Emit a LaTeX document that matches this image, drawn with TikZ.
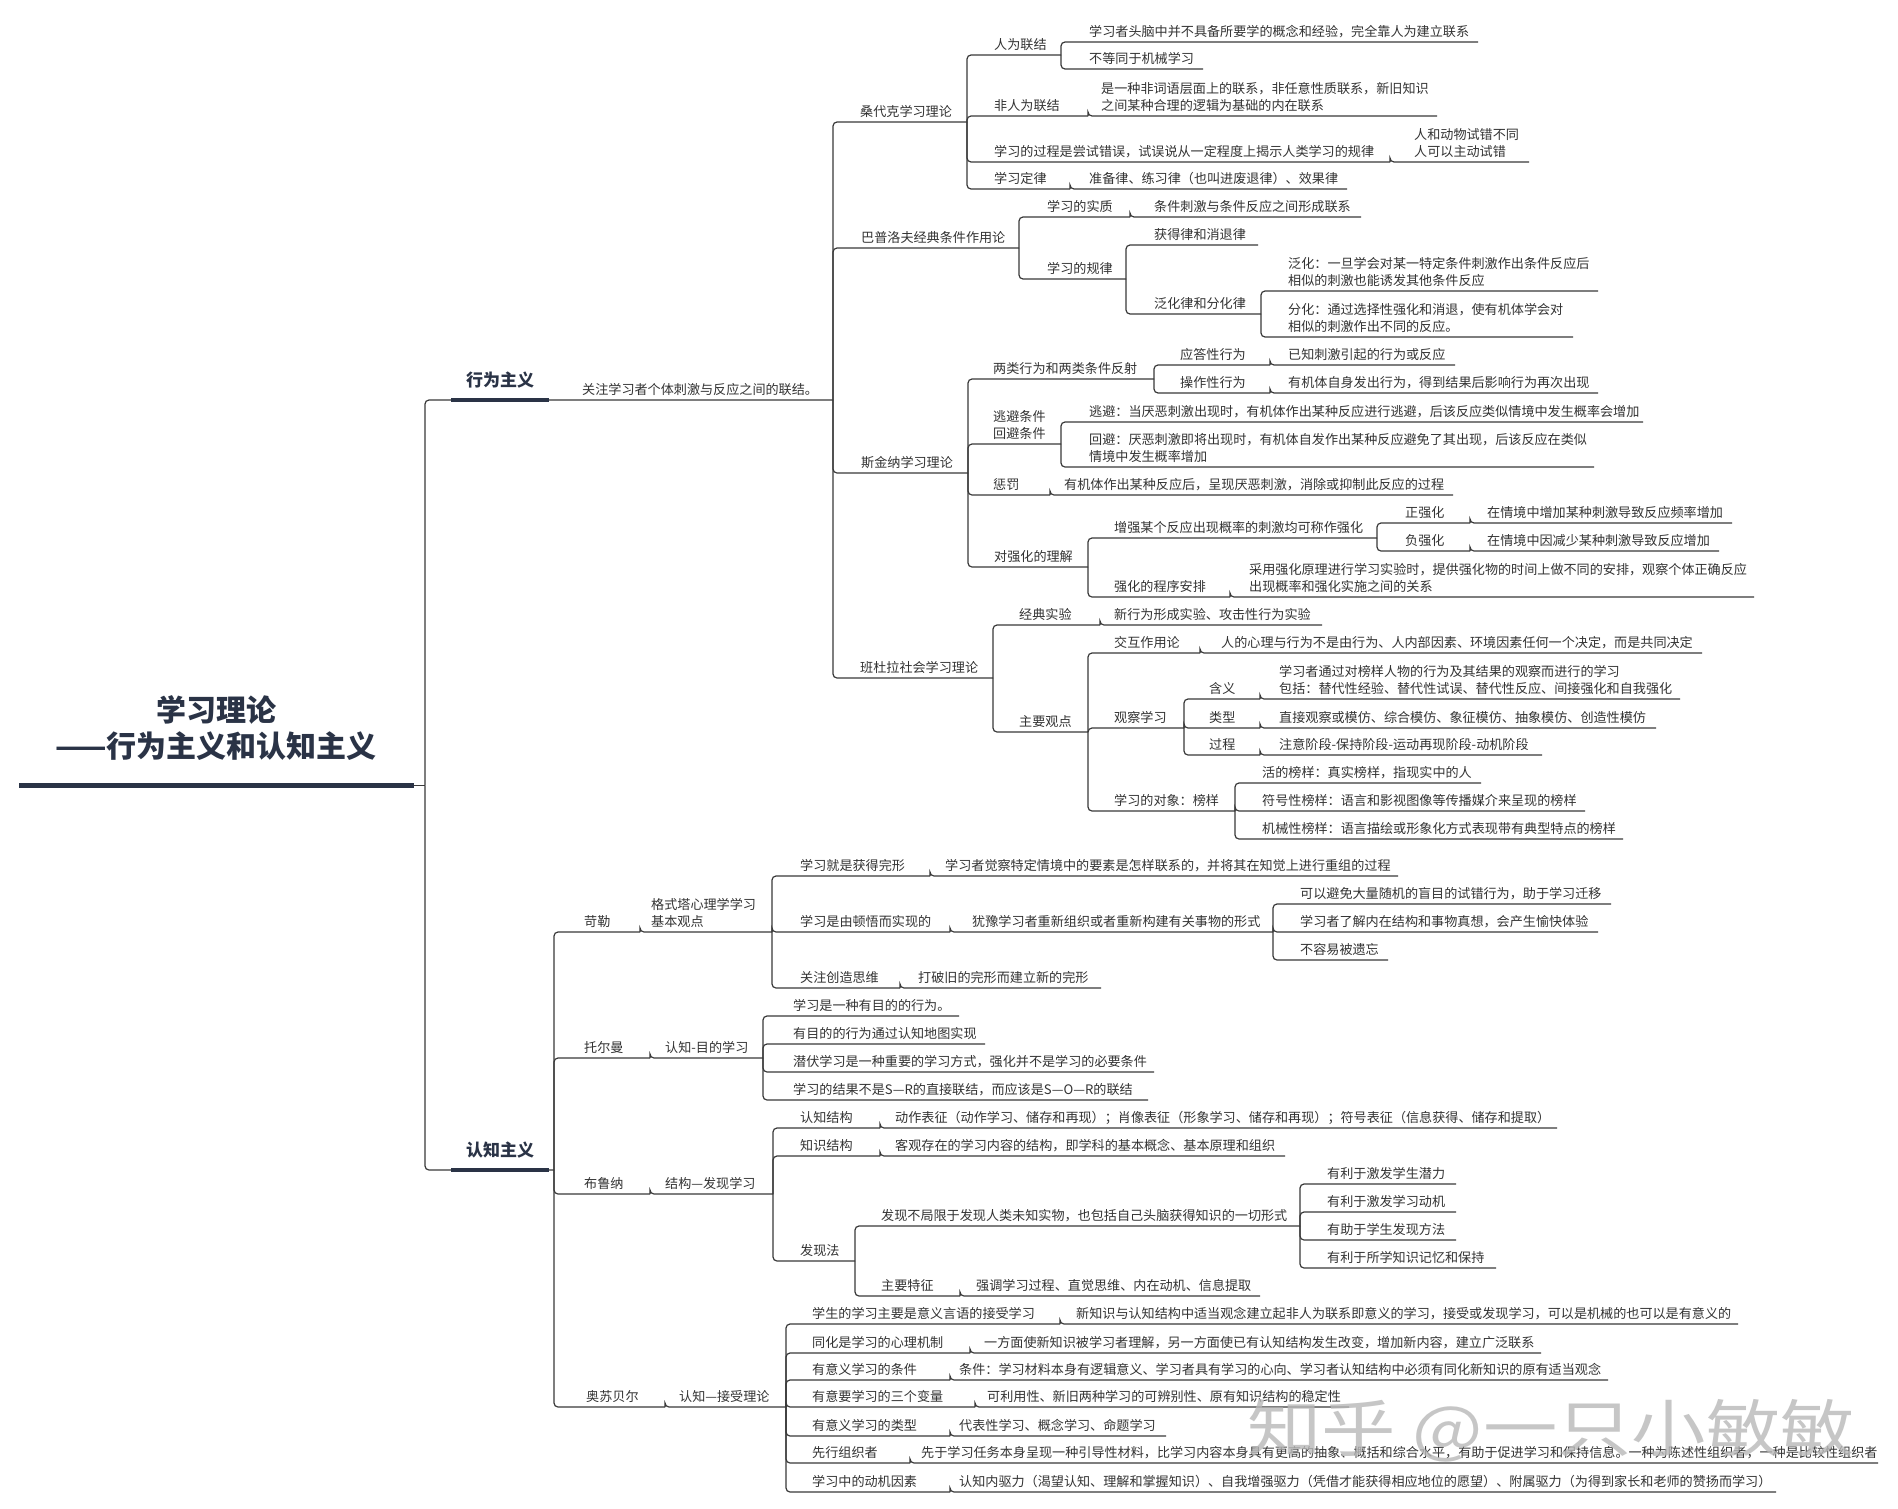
\documentclass[tikz,border=0pt]{standalone}
\usepackage{fontspec}
\setmainfont{Noto Sans CJK SC}
\definecolor{textc}{HTML}{333333}
\definecolor{linec}{HTML}{3A3A3A}
\definecolor{navy}{HTML}{2A3346}
\newcommand{\ml}[1]{\begin{tabular}[b]{@{}l@{}}#1\end{tabular}}
\newcommand{\tp}[6]{%
  \coordinate (#1-e) at (#5,#4);
  \node[txt] (#1) at (#3,#4-6) {#6};
  \draw[conn] (#2-e) |- (#1-e);
}
\tikzset{
  txt/.style={anchor=base west, inner sep=0pt, text=textc, font=\fontsize{13.1}{17}\selectfont},
  conn/.style={draw=linec, line width=1.2pt, rounded corners=4pt},
  bigtitle/.style={anchor=center, inner sep=0pt, text=navy, font=\bfseries\fontsize{30}{36}\selectfont},
  cattitle/.style={anchor=base west, inner sep=0pt, text=navy, font=\bfseries\fontsize{17}{20}\selectfont},
  bar/.style={draw=navy, line width=5.5pt},
  catbar/.style={draw=navy, line width=3.5pt},
}
\begin{document}
\begin{tikzpicture}[x=1pt,y=-1pt]
\useasboundingbox[fill=white] (0,0) rectangle (1898,1508);
% root
\node[bigtitle] (title1) at (216,709.5) {学习理论};
\node[bigtitle] (title2) at (216,746.5) {——行为主义和认知主义};
\coordinate (root-b) at (19,785.5);
\coordinate (root-m) at (414,785.5);
\coordinate (root-e) at (425,785.5);
\draw[bar] (root-b) -- (root-m);
\draw[conn] (root-m) -- (root-e);
% behaviorism
\coordinate (beh-e) at (833,400);
\coordinate (beh-b1) at (451,400);
\coordinate (beh-b2) at (549,400);
\draw[conn] (root-e) |- (beh-e);
\draw[catbar] (beh-b1) -- (beh-b2);
\node[cattitle] (beh) at (466,386) {行为主义};
\node[txt] (behd) at (582,394) {关注学习者个体刺激与反应之间的联结。};
% cognitivism
\coordinate (cog-e) at (554,1170);
\coordinate (cog-b1) at (451,1170);
\coordinate (cog-b2) at (549,1170);
\draw[conn] (root-e) |- (cog-e);
\draw[catbar] (cog-b1) -- (cog-b2);
\node[cattitle] (cog) at (466,1156) {认知主义};
% ---- behaviorism level 2
\tp{sdk}{beh}{860}{122}{967}{桑代克学习理论}
\tp{bpl}{beh}{861}{248}{1019}{巴普洛夫经典条件作用论}
\tp{sjn}{beh}{861}{473}{968}{斯金纳学习理论}
\tp{bdl}{beh}{860}{678}{993}{班杜拉社会学习理论}
% Thorndike
\tp{rwlj}{sdk}{994}{55}{1061}{人为联结}
\tp{rw1}{rwlj}{1089}{42}{1478}{学习者头脑中并不具备所要学的概念和经验，完全靠人为建立联系}
\tp{rw2}{rwlj}{1089}{69}{1203}{不等同于机械学习}
\tp{frw}{sdk}{994}{116}{1088}{非人为联结}
\tp{frw1}{frw}{1101}{116}{1437}{\ml{是一种非词语层面上的联系，非任意性质联系，新旧知识\\之间某种合理的逻辑为基础的内在联系}}
\tp{scy}{sdk}{994}{162}{1390}{学习的过程是尝试错误，试误说从一定程度上揭示人类学习的规律}
\tp{scy1}{scy}{1414}{162}{1529}{\ml{人和动物试错不同\\人可以主动试错}}
\tp{xxdl}{sdk}{994}{189}{1070}{学习定律}
\tp{xxdl1}{xxdl}{1089}{189}{1347}{准备律、练习律（也叫进废退律）、效果律}
% Pavlov
\tp{sz}{bpl}{1047}{217}{1130}{学习的实质}
\tp{sz1}{sz}{1154}{217}{1361}{条件刺激与条件反应之间形成联系}
\tp{gl}{bpl}{1047}{279}{1126}{学习的规律}
\tp{hd}{gl}{1154}{245}{1258}{获得律和消退律}
\tp{fh}{gl}{1154}{314}{1261}{泛化律和分化律}
\tp{fh1}{fh}{1288}{291}{1598}{\ml{泛化：一旦学会对某一特定条件刺激作出条件反应后\\相似的刺激也能诱发其他条件反应}}
\tp{fh2}{fh}{1288}{337}{1573}{\ml{分化：通过选择性强化和消退，使有机体学会对\\相似的刺激作出不同的反应。}}
% Skinner
\tp{lx}{sjn}{993}{379}{1154}{两类行为和两类条件反射}
\tp{yd}{lx}{1180}{365}{1270}{应答性行为}
\tp{yd1}{yd}{1288}{365}{1455}{已知刺激引起的行为或反应}
\tp{czx}{lx}{1180}{393}{1270}{操作性行为}
\tp{czx1}{czx}{1288}{393}{1598}{有机体自身发出行为，得到结果后影响行为再次出现}
\tp{tbj}{sjn}{993}{444}{1061}{\ml{逃避条件\\回避条件}}
\tp{tbj1}{tbj}{1089}{422}{1643}{逃避：当厌恶刺激出现时，有机体作出某种反应进行逃避，后该反应类似情境中发生概率会增加}
\tp{tbj2}{tbj}{1089}{467}{1594}{\ml{回避：厌恶刺激即将出现时，有机体自发作出某种反应避免了其出现，后该反应在类似\\情境中发生概率增加}}
\tp{cf}{sjn}{993}{495}{1050}{惩罚}
\tp{cf1}{cf}{1064}{495}{1453}{有机体作出某种反应后，呈现厌恶刺激，消除或抑制此反应的过程}
\tp{qh}{sjn}{994}{567}{1088}{对强化的理解}
\tp{zq}{qh}{1114}{538}{1377}{增强某个反应出现概率的刺激均可称作强化}
\tp{zqh}{zq}{1405}{523}{1470}{正强化}
\tp{zqh1}{zqh}{1487}{523}{1732}{在情境中增加某种刺激导致反应频率增加}
\tp{fqh}{zq}{1405}{551}{1470}{负强化}
\tp{fqh1}{fqh}{1487}{551}{1719}{在情境中因减少某种刺激导致反应增加}
\tp{cxa}{qh}{1114}{597}{1230}{强化的程序安排}
\tp{cxa1}{cxa}{1249}{597}{1754}{\ml{采用强化原理进行学习实验时，提供强化物的时间上做不同的安排，观察个体正确反应\\出现概率和强化实施之间的关系}}
% Bandura
\tp{jd}{bdl}{1019}{625}{1100}{经典实验}
\tp{jd1}{jd}{1114}{625}{1322}{新行为形成实验、攻击性行为实验}
\tp{zygd}{bdl}{1019}{732}{1088}{主要观点}
\tp{jh}{zygd}{1114}{653}{1200}{交互作用论}
\tp{jh1}{jh}{1221}{653}{1702}{人的心理与行为不是由行为、人内部因素、环境因素任何一个决定，而是共同决定}
\tp{gcx}{zygd}{1114}{728}{1184}{观察学习}
\tp{hy}{gcx}{1209}{699}{1260}{含义}
\tp{hy1}{hy}{1279}{699}{1680}{\ml{学习者通过对榜样人物的行为及其结果的观察而进行的学习\\包括：替代性经验、替代性试误、替代性反应、间接强化和自我强化}}
\tp{lxing}{gcx}{1209}{728}{1260}{类型}
\tp{lxing1}{lxing}{1279}{728}{1656}{直接观察或模仿、综合模仿、象征模仿、抽象模仿、创造性模仿}
\tp{gch}{gcx}{1209}{755}{1260}{过程}
\tp{gch1}{gch}{1279}{755}{1542}{注意阶段-保持阶段-运动再现阶段-动机阶段}
\tp{by}{zygd}{1114}{811}{1235}{学习的对象：榜样}
\tp{by1}{by}{1262}{783}{1481}{活的榜样：真实榜样，指现实中的人}
\tp{by2}{by}{1262}{811}{1585}{符号性榜样：语言和影视图像等传播媒介来呈现的榜样}
\tp{by3}{by}{1262}{839}{1623}{机械性榜样：语言描绘或形象化方式表现带有典型特点的榜样}
% ---- cognitivism
% Kohler
\tp{kl}{cog}{584}{932}{640}{苛勒}
\tp{kl1}{kl}{651}{932}{772}{\ml{格式塔心理学学习\\基本观点}}
\tp{wx}{kl1}{800}{876}{930}{学习就是获得完形}
\tp{wx1}{wx}{945}{876}{1398}{学习者觉察特定情境中的要素是怎样联系的，并将其在知觉上进行重组的过程}
\tp{dw}{kl1}{800}{932}{950}{学习是由顿悟而实现的}
\tp{dw1}{dw}{972}{932}{1273}{犹豫学习者重新组织或者重新构建有关事物的形式}
\tp{dwa}{dw1}{1300}{904}{1611}{可以避免大量随机的盲目的试错行为，助于学习迁移}
\tp{dwb}{dw1}{1300}{932}{1598}{学习者了解内在结构和事物真想，会产生愉快体验}
\tp{dwc}{dw1}{1300}{960}{1388}{不容易被遗忘}
\tp{gz}{kl1}{800}{988}{900}{关注创造思维}
\tp{gz1}{gz}{918}{988}{1101}{打破旧的完形而建立新的完形}
% Tolman
\tp{te}{cog}{584}{1058}{650}{托尔曼}
\tp{te1}{te}{665}{1058}{763}{认知-目的学习}
\tp{ta}{te1}{793}{1016}{959}{学习是一种有目的的行为。}
\tp{tbb}{te1}{793}{1044}{985}{有目的的行为通过认知地图实现}
\tp{tc}{te1}{793}{1072}{1154}{潜伏学习是一种重要的学习方式，强化并不是学习的必要条件}
\tp{td}{te1}{793}{1100}{1148}{学习的结果不是S—R的直接联结，而应该是S—O—R的联结}
% Bruner
\tp{bln}{cog}{584}{1194}{650}{布鲁纳}
\tp{bln1}{bln}{665}{1194}{773}{结构—发现学习}
\tp{rz}{bln1}{800}{1128}{880}{认知结构}
\tp{rz1}{rz}{895}{1128}{1557}{动作表征（动作学习、储存和再现）；肖像表征（形象学习、储存和再现）；符号表征（信息获得、储存和提取）}
\tp{zs}{bln1}{800}{1156}{880}{知识结构}
\tp{zs1}{zs}{895}{1156}{1285}{客观存在的学习内容的结构，即学科的基本概念、基本原理和组织}
\tp{fx}{bln1}{800}{1261}{855}{发现法}
\tp{fxa}{fx}{881}{1226}{1300}{发现不局限于发现人类未知实物，也包括自己头脑获得知识的一切形式}
\tp{fa1}{fxa}{1327}{1184}{1456}{有利于激发学生潜力}
\tp{fa2}{fxa}{1327}{1212}{1456}{有利于激发学习动机}
\tp{fa3}{fxa}{1327}{1240}{1456}{有助于学生发现方法}
\tp{fa4}{fxa}{1327}{1268}{1496}{有利于所学知识记忆和保持}
\tp{fxb}{fx}{881}{1296}{960}{主要特征}
\tp{fxb1}{fxb}{976}{1296}{1260}{强调学习过程、直觉思维、内在动机、信息提取}
% Ausubel
\tp{asb}{cog}{586}{1407}{665}{奥苏贝尔}
\tp{asb1}{asb}{679}{1407}{786}{认知—接受理论}
\tp{ax1}{asb1}{812}{1324}{1060}{学生的学习主要是意义言语的接受学习}
\tp{ax1t}{ax1}{1076}{1324}{1738}{新知识与认知结构中适当观念建立起非人为联系即意义的学习，接受或发现学习，可以是机械的也可以是有意义的}
\tp{ax2}{asb1}{812}{1353}{970}{同化是学习的心理机制}
\tp{ax2t}{ax2}{984}{1353}{1541}{一方面使新知识被学习者理解，另一方面使已有认知结构发生改变，增加新内容，建立广泛联系}
\tp{ax3}{asb1}{812}{1380}{950}{有意义学习的条件}
\tp{ax3t}{ax3}{959}{1380}{1608}{条件：学习材料本身有逻辑意义、学习者具有学习的心向、学习者认知结构中必须有同化新知识的原有适当观念}
\tp{ax4}{asb1}{812}{1407}{975}{有意要学习的三个变量}
\tp{ax4t}{ax4}{987}{1407}{1349}{可利用性、新旧两种学习的可辨别性、原有知识结构的稳定性}
\tp{ax5}{asb1}{812}{1436}{950}{有意义学习的类型}
\tp{ax5t}{ax5}{959}{1436}{1166}{代表性学习、概念学习、命题学习}
\tp{ax6}{asb1}{812}{1463}{910}{先行组织者}
\tp{ax6t}{ax6}{921}{1463}{1878}{先于学习任务本身呈现一种引导性材料，比学习内容本身具有更高的抽象、概括和综合水平，有助于促进学习和保持信息。一种为陈述性组织者，一种是比较性组织者}
\tp{ax7}{asb1}{812}{1492}{950}{学习中的动机因素}
\tp{ax7t}{ax7}{959}{1492}{1776}{认知内驱力（渴望认知、理解和掌握知识）、自我增强驱力（凭借才能获得相应地位的愿望）、附属驱力（为得到家长和老师的赞扬而学习）}
% watermark
\node[anchor=west, inner sep=0pt, text=black!28, opacity=0.8, font=\fontsize{62}{68}\selectfont] (wm) at (1247,1431) {\scalebox{1.2}[1]{知乎 @一只小敏敏}};
\end{tikzpicture}
\end{document}
